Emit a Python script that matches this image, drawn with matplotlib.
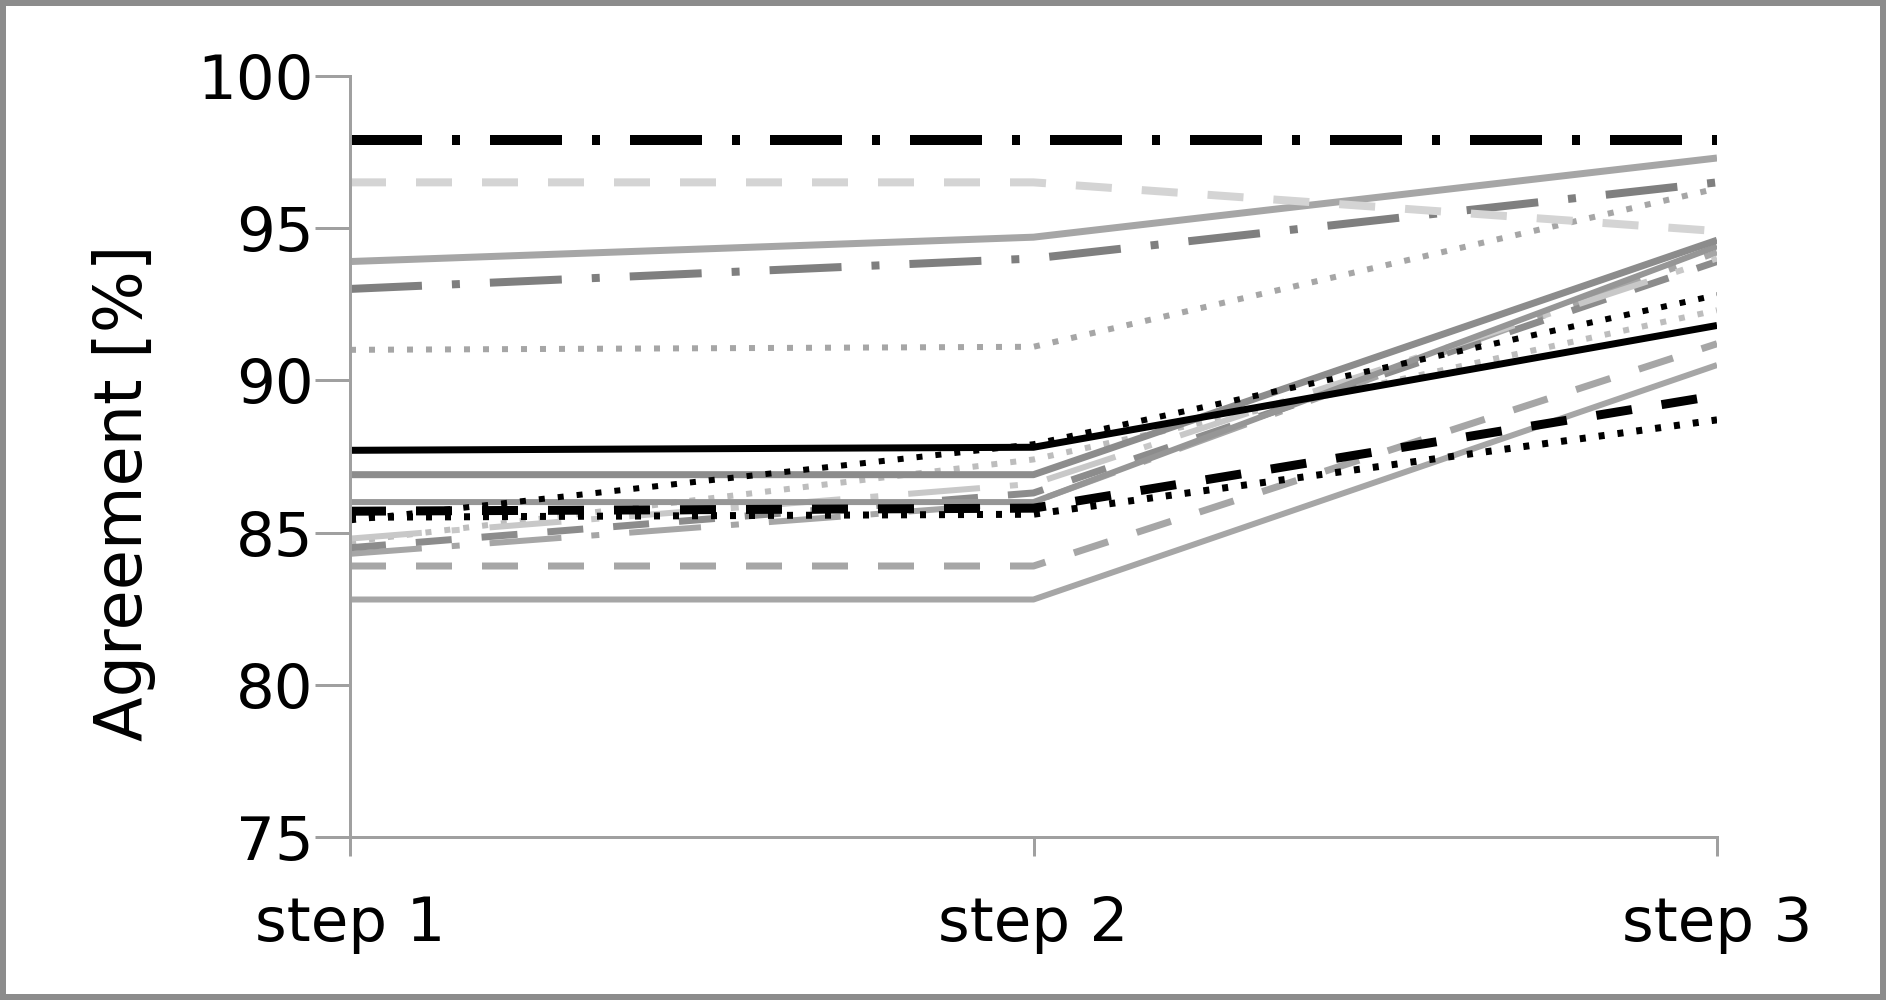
import matplotlib
matplotlib.use('Agg')
import matplotlib.pyplot as plt
from matplotlib.patches import Rectangle

plt.rcParams['font.family'] = ['DejaVu Sans']
plt.rcParams['lines.scale_dashes'] = False

# x categories and y ticks
steps = ['step 1', 'step 2', 'step 3']
yticks = [75, 80, 85, 90, 95, 100]

# agreement [%] for each line at step 1, 2, 3
a_vals = [97.9, 97.9, 97.9]
b_vals = [96.5, 96.5, 94.9]
c_vals = [93.9, 94.7, 97.3]
d_vals = [93.0, 94.0, 96.5]
e_vals = [91.0, 91.1, 96.3]
f_vals = [87.7, 87.8, 91.8]
g_vals = [86.9, 86.9, 94.6]
h_vals = [86.0, 86.0, 94.4]
i_vals = [85.7, 85.8, 89.5]
j_vals = [85.4, 87.9, 92.8]
k_vals = [85.5, 85.6, 88.7]
l_vals = [84.8, 86.6, 94.0]
m_vals = [84.5, 86.3, 93.9]
n_vals = [84.3, 86.0, 94.2]
o_vals = [83.9, 83.9, 91.2]
p_vals = [82.8, 82.8, 90.5]
q_vals = [84.7, 87.4, 92.3]

PX = 0.72  # points per pixel at dpi 100
solid = '-'
dotted = (0, (6 * PX, 13 * PX))
dashed = (0, (36 * PX, 30 * PX))
dashdot = (0, (72 * PX, 30 * PX, 8 * PX, 30 * PX))

# (values, colour, style, width in px) - drawn in this order
series = [
    (p_vals, '#a6a6a6', solid, 6),
    (o_vals, '#a6a6a6', dashed, 7),
    (q_vals, '#bdbdbd', dotted, 6),
    (n_vals, '#a6a6a6', dashdot, 6),
    (m_vals, '#8c8c8c', dashed, 7),
    (l_vals, '#c8c8c8', dashdot, 6),
    (h_vals, '#969696', solid, 6),
    (g_vals, '#8c8c8c', solid, 7),
    (e_vals, '#a6a6a6', dotted, 6),
    (d_vals, '#7f7f7f', dashdot, 8),
    (c_vals, '#a6a6a6', solid, 7),
    (b_vals, '#d4d4d4', dashed, 8),
    (f_vals, 'black', solid, 7),
    (i_vals, 'black', dashed, 9),
    (k_vals, 'black', dotted, 7),
    (j_vals, 'black', dotted, 6),
    (a_vals, 'black', dashdot, 10),
]

fig = plt.figure(figsize=(18.86, 10), dpi=100)
ax = fig.add_axes([350 / 1886, 1 - 837 / 1000, 1367 / 1886, 761.2 / 1000])

x = list(range(len(steps)))
for vals, col, ls, w in series:
    ax.plot(x, vals, color=col, linestyle=ls, linewidth=w * PX,
            solid_capstyle='butt', dash_capstyle='butt', clip_on=True)

ax.set_xlim(0, 2)
ax.set_ylim(75, 100)
ax.set_xticks(x)
ax.set_xticklabels(steps)
ax.set_yticks(yticks)

spine_col = '#a0a0a0'
for s in ['top', 'right']:
    ax.spines[s].set_visible(False)
for s in ['left', 'bottom']:
    ax.spines[s].set_color(spine_col)
    ax.spines[s].set_linewidth(3 * PX)

ax.tick_params(axis='y', length=35 * PX, width=3 * PX, color=spine_col,
               labelsize=44, pad=1)
ax.tick_params(axis='x', length=19 * PX, width=3 * PX, color=spine_col,
               labelsize=44, pad=28)

ax.set_ylabel('Agreement [%]', fontsize=47)
ax.yaxis.set_label_coords(-0.142, 0.452)

# grey frame round the whole picture
fig.patches.append(Rectangle((0, 0), 1, 1, transform=fig.transFigure,
                             fill=False, lw=12 * PX, ec='#8c8c8c'))

fig.savefig('out.png', dpi=100)
